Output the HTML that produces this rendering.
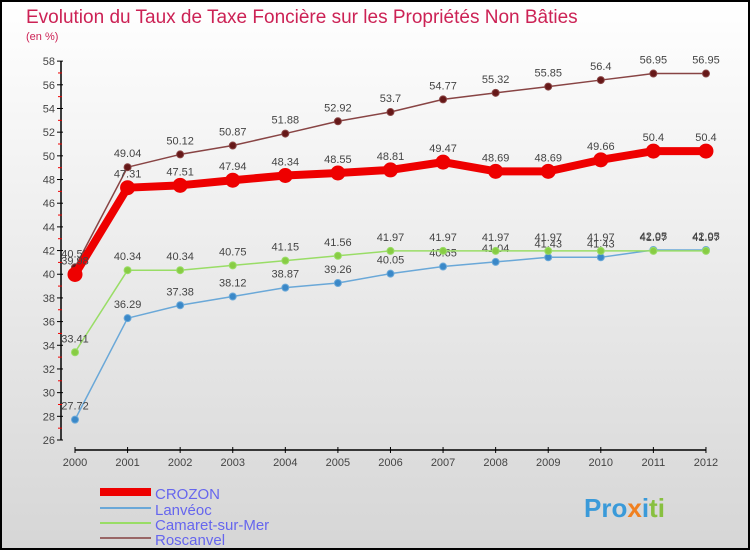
<!DOCTYPE html>
<html><head><meta charset="utf-8"><style>
body{margin:0;width:750px;height:550px;overflow:hidden;font-family:"Liberation Sans",sans-serif}
svg{display:block}
</style></head><body>
<svg id="c" width="750" height="550" xmlns="http://www.w3.org/2000/svg">
<defs><linearGradient id="bg" x1="0" y1="0" x2="0" y2="1"><stop offset="0" stop-color="#ffffff"/><stop offset="1" stop-color="#d6d6d6"/></linearGradient></defs>
<rect x="1" y="1" width="748" height="548" fill="url(#bg)" stroke="#000" stroke-width="2"/>
<text x="26" y="23" font-size="19" fill="#cc2255">Evolution du Taux de Taxe Foncière sur les Propriétés Non Bâties</text>
<text x="26" y="40" font-size="11" fill="#cc2255">(en %)</text>
<g id="axes"></g><g id="series"></g><g id="legend"></g>
<text x="584" y="517" font-size="26" font-weight="bold" fill="#3a9ad9">Pro<tspan fill="#f08020">x</tspan><tspan fill="#3a9ad9">i</tspan><tspan fill="#88c040">ti</tspan></text>
</svg>
<script>
const years=[2000,2001,2002,2003,2004,2005,2006,2007,2008,2009,2010,2011,2012];
const crozon=[39.98,47.31,47.51,47.94,48.34,48.55,48.81,49.47,48.69,48.69,49.66,50.4,50.4];
const lanveoc=[27.72,36.29,37.38,38.12,38.87,39.26,40.05,40.65,41.04,41.43,41.43,42.05,42.05];
const camaret=[33.41,40.34,40.34,40.75,41.15,41.56,41.97,41.97,41.97,41.97,41.97,41.97,41.97];
const roscanvel=[40.58,49.04,50.12,50.87,51.88,52.92,53.7,54.77,55.32,55.85,56.4,56.95,56.95];
const yTicks=[26,28,30,32,34,36,38,40,42,44,46,48,50,52,54,56,58];
const NS="http://www.w3.org/2000/svg";
const X=y=>75+(y-2000)*52.58;
const Y=v=>440-(v-26)*11.84;
function mk(t,a,p){const e=document.createElementNS(NS,t);for(const k in a)e.setAttribute(k,a[k]);p.appendChild(e);return e;}
const ax=document.getElementById('axes');
const yl=mk('line',{x1:61,y1:Y(58),x2:61,y2:Y(26),stroke:'#000','stroke-width':1.5},ax);


yTicks.forEach(v=>{
 mk('line',{x1:57,y1:Y(v),x2:63,y2:Y(v),stroke:'#000'},ax);
 if(v<58)mk('line',{x1:58,y1:Y(v+1),x2:62,y2:Y(v+1),stroke:'#e00'},ax);
 const t=mk('text',{x:55,y:Y(v)+4,'font-size':11,fill:'#444','text-anchor':'end'},ax);t.textContent=v;
 
 
});
const xl=mk('line',{x1:75,y1:450,x2:X(2012),y2:450,stroke:'#000','stroke-width':1.5},ax);


years.forEach(y=>{
 mk('line',{x1:X(y),y1:447,x2:X(y),y2:453,stroke:'#000'},ax);
 const t=mk('text',{x:X(y),y:466,'font-size':11,fill:'#444','text-anchor':'middle'},ax);t.textContent=y;
 
 
});
const sg=document.getElementById('series');
function series(vals,color,w,r,name,dcol){
 const g=mk('g',{},sg);
 
 
 mk('polyline',{points:vals.map((v,i)=>X(years[i])+','+Y(v)).join(' '),fill:'none',stroke:color,'stroke-width':w,'stroke-linejoin':'round'},g);
 vals.forEach((v,i)=>{
  const c=mk('circle',{cx:X(years[i]),cy:Y(v),r:r,fill:dcol,stroke:color,'stroke-width':1},g);
  
  
  const t=mk('text',{x:X(years[i]),y:Y(v)-10,'font-size':11,fill:'#444','text-anchor':'middle'},g);t.textContent=v;
  
  
 });
}
series(lanveoc,'#6aa8d8',1.5,3.5,'lanveoc','#3a88c8');
series(camaret,'#99dd66',1.5,3.5,'camaret','#88cc44');
series(roscanvel,'#884444',1.5,3.5,'roscanvel','#661818');
series(crozon,'#ee0000',8,7,'crozon','#ee0000');
const lg=document.getElementById('legend');
const items=[['CROZON','#ee0000',8,497],['Lanvéoc','#6aa8d8',2,513],['Camaret-sur-Mer','#99dd66',2,528],['Roscanvel','#996666',2,543]];
items.forEach(it=>{
 const g=mk('g',{},lg);
 
 
 mk('line',{x1:100,y1:it[3]-5,x2:151,y2:it[3]-5,stroke:it[1],'stroke-width':it[2]},g);
 const t=mk('text',{x:155,y:it[3]+2,'font-size':15,fill:'#6666ee'},g);t.textContent=it[0];
});
</script>
</body></html>
